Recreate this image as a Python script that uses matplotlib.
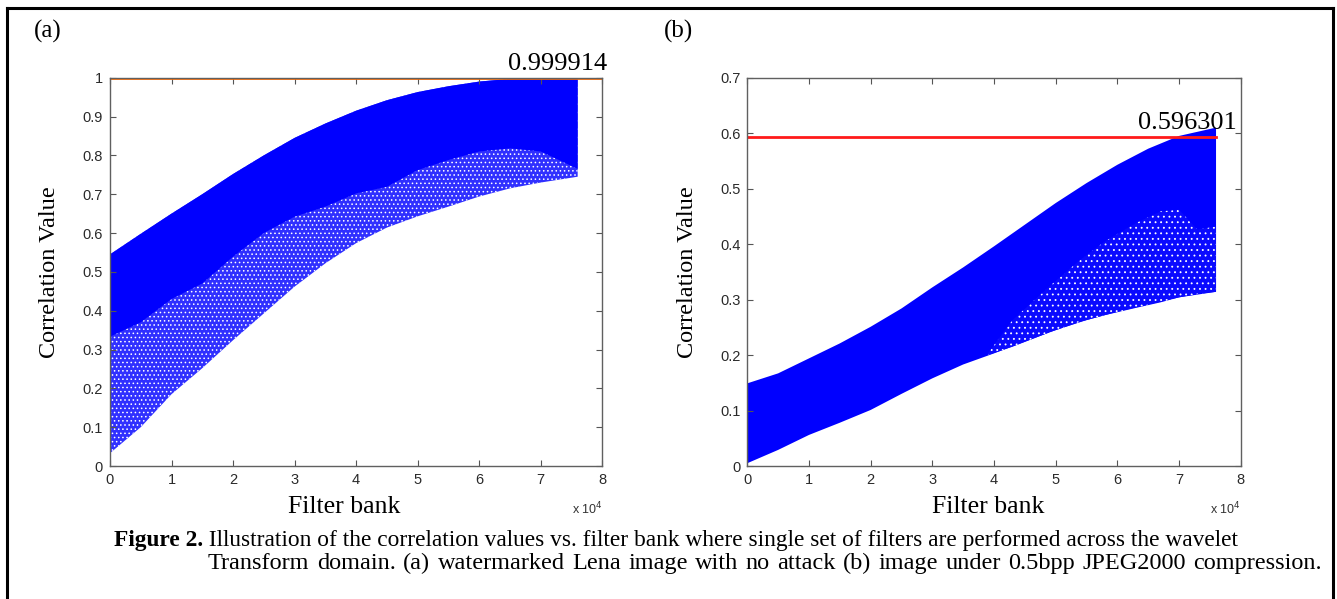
import numpy as np
import matplotlib
matplotlib.use('Agg')
import matplotlib.pyplot as plt
from matplotlib.lines import Line2D

# values (filter bank in units of 1e4)
bank_a = [0, 0.5, 1, 1.5, 2, 2.5, 3, 3.5, 4, 4.5, 5, 5.5, 6, 6.5, 7, 7.6]
upper_a = [0.545, 0.598, 0.65, 0.70, 0.752, 0.80, 0.845, 0.882, 0.915, 0.942, 0.963, 0.978, 0.99, 0.997, 0.999, 0.999]
lower_a = [0.033, 0.10, 0.185, 0.252, 0.324, 0.393, 0.462, 0.522, 0.574, 0.614, 0.643, 0.668, 0.694, 0.715, 0.73, 0.745]
dense_a = [0.333, 0.37, 0.43, 0.47, 0.539, 0.60, 0.642, 0.668, 0.702, 0.719, 0.762, 0.788, 0.81, 0.818, 0.81, 0.765]
max_a = 0.999914

bank_b = [0, 0.5, 1, 1.5, 2, 2.5, 3, 3.5, 4, 4.5, 5, 5.5, 6, 6.5, 7, 7.6]
upper_b = [0.149, 0.167, 0.194, 0.221, 0.251, 0.284, 0.322, 0.358, 0.396, 0.435, 0.474, 0.51, 0.543, 0.572, 0.595, 0.61]
lower_b = [0.005, 0.029, 0.056, 0.078, 0.101, 0.13, 0.158, 0.183, 0.203, 0.224, 0.245, 0.263, 0.278, 0.291, 0.304, 0.314]
sparse_x_b = [3.9, 4.3, 4.9, 5.4, 5.8, 6.3, 6.7, 7.0, 7.3, 7.6]
sparse_top_b = [0.203, 0.263, 0.324, 0.372, 0.405, 0.438, 0.459, 0.462, 0.426, 0.432]
sparse_bot_b = [0.200, 0.215, 0.241, 0.260, 0.272, 0.285, 0.295, 0.304, 0.310, 0.314]
max_b = 0.596301

caption_1 = 'Illustration of the correlation values vs. filter bank where single set of filters are performed across the wavelet'
caption_2 = 'Transform domain. (a) watermarked Lena image with no attack (b) image under 0.5bpp JPEG2000 compression.'

SERIF = 'Liberation Serif'
SANS = 'Liberation Sans'
W, H = 1337, 599
plt.rcParams['hatch.linewidth'] = 0.6

fig = plt.figure(figsize=(W / 100, H / 100), dpi=100)


def style_axes(ax, ymax, ystep):
    ax.set_xlim(0, 8e4)
    ax.set_ylim(0, ymax)
    ax.set_xticks(np.arange(0, 9) * 1e4)
    ax.set_xticklabels([str(i) for i in range(9)])
    yt = np.round(np.arange(0, ymax + 1e-9, ystep), 2)
    ax.set_yticks(yt)
    ax.set_yticklabels(['%g' % v for v in yt])
    ax.tick_params(direction='in', length=4.5, width=0.8, top=True, right=True,
                   colors='#555555', labelcolor='#2a2a2a', labelsize=10.5, pad=5)
    for lab in ax.get_xticklabels() + ax.get_yticklabels():
        lab.set_family(SANS)
    for sp in ax.spines.values():
        sp.set_color('#606060')
        sp.set_linewidth(1.0)
    ax.set_ylabel('Correlation Value', family=SERIF, fontsize=17.5)
    ax.set_xlabel('Filter bank', family=SERIF, fontsize=18.5)
    ax.text(1.0, -0.112, r'x 10$^4$', transform=ax.transAxes, ha='right', va='center',
            family=SANS, fontsize=9, color='#333333')


# (a)
ax1 = fig.add_axes([110 / W, 1 - 466 / H, 492.3 / W, 388.3 / H])
xa = np.array(bank_a) * 1e4
ax1.fill_between(xa, lower_a, upper_a, facecolor='#3030ff', edgecolor='white',
                 hatch='....', linewidth=0)
ax1.fill_between(xa, dense_a, upper_a, facecolor='#0000ff', linewidth=0)
ax1.axhline(max_a, color='#ff6a00', linewidth=2)
ax1.text(8.08e4, 1.02, '%.6f' % max_a, ha='right', va='baseline',
         family=SERIF, fontsize=19, clip_on=False)
style_axes(ax1, 1.0, 0.1)
ax1.xaxis.set_label_coords(0.475, -0.078)
ax1.yaxis.set_label_coords(-0.102, 0.5)

# (b)
ax2 = fig.add_axes([747.3 / W, 1 - 466 / H, 493.4 / W, 388.3 / H])
xb = np.array(bank_b) * 1e4
ax2.fill_between(xb, lower_b, upper_b, facecolor='#0000ff', linewidth=0)
ax2.fill_between(np.array(sparse_x_b) * 1e4, sparse_bot_b, sparse_top_b,
                 facecolor='#0a0aff', edgecolor='white', hatch='...', linewidth=0)
ax2.plot([0, bank_b[-1] * 1e4], [max_b - 0.003, max_b - 0.003], color='#ff1a1a', linewidth=2)
ax2.text(7.94e4, 0.607, '%.6f' % max_b, ha='right', va='baseline',
         family=SERIF, fontsize=19, clip_on=False)
style_axes(ax2, 0.7, 0.1)
ax2.xaxis.set_label_coords(0.488, -0.078)
ax2.yaxis.set_label_coords(-0.10, 0.5)

# panel letters
fig.text(34 / W, 1 - 31 / H, '(a)', family=SERIF, fontsize=18, va='center', ha='left')
fig.text(664 / W, 1 - 31 / H, '(b)', family=SERIF, fontsize=18, va='center', ha='left')

# caption
fig.canvas.draw()
renderer = fig.canvas.get_renderer()


def caption_line1(x_start, x_end, baseline, base_size=16.5):
    bold = fig.text(0, 1 - baseline / H, 'Figure 2.', family=SERIF, fontsize=base_size,
                    fontweight='bold', va='baseline', ha='left')
    rest = fig.text(0, 1 - baseline / H, ' ' + caption_1, family=SERIF, fontsize=base_size,
                    va='baseline', ha='left')
    total = bold.get_window_extent(renderer).width + rest.get_window_extent(renderer).width
    size = base_size * (x_end - x_start) / total
    bold.set_fontsize(size)
    rest.set_fontsize(size)
    bold.set_x(x_start / W)
    rest.set_x((x_start + bold.get_window_extent(renderer).width) / W)
    return size


def caption_line2(x_start, x_end, baseline, size):
    words = caption_2.split()
    texts = [fig.text(0, 1 - baseline / H, w, family=SERIF, fontsize=size,
                      va='baseline', ha='left') for w in words]
    widths = [t.get_window_extent(renderer).width for t in texts]
    gap = (x_end - x_start - sum(widths)) / (len(words) - 1)
    x = x_start
    for t, w in zip(texts, widths):
        t.set_x(x / W)
        x += w + gap


size1 = caption_line1(114, 1233, 546)
caption_line2(208, 1322, 569, size1 * 1.04)

# frame around the figure (bottom edge falls outside the picture)
frame_kw = dict(color='black', linewidth=2.2, transform=fig.transFigure)
fig.add_artist(Line2D([7 / W, 7 / W], [0, 1 - 8 / H], **frame_kw))
fig.add_artist(Line2D([7 / W, 1333 / W], [1 - 8 / H, 1 - 8 / H], **frame_kw))
fig.add_artist(Line2D([1333 / W, 1333 / W], [0, 1 - 8 / H], **frame_kw))

fig.savefig('out.png', dpi=100)
